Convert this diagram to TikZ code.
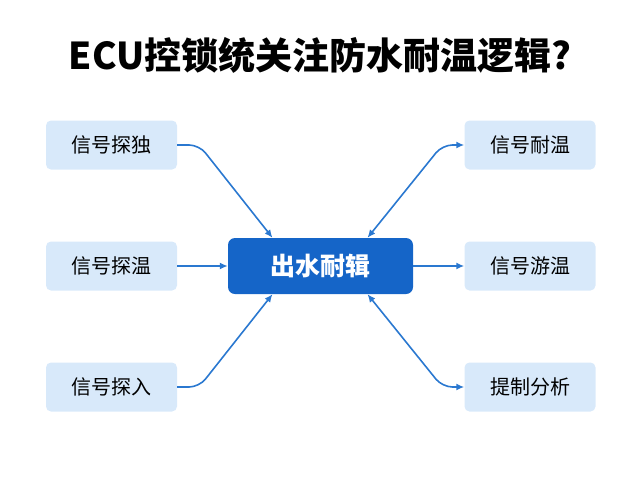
\documentclass[tikz,border=0pt]{standalone}
\usepackage{fontspec}
\setmainfont{Noto Sans CJK SC}
\usetikzlibrary{arrows.meta}
\usetikzlibrary{calc}
\usetikzlibrary{positioning}
\definecolor{boxfill}{HTML}{D8E9FA}
\definecolor{hubfill}{HTML}{1565C8}
\definecolor{linkcol}{HTML}{2A78D0}

\begin{document}
\begin{tikzpicture}[x=1pt,y=-1pt,>={Latex[length=8pt,width=7pt]}]
  \tikzstyle{side}=[fill=boxfill, rounded corners=5pt, minimum width=131pt, minimum height=49pt, font=\fontsize{20}{20}\selectfont]
  \tikzstyle{hub}=[fill=hubfill, rounded corners=7pt, minimum width=185pt, minimum height=56pt, text=white, font=\fontsize{25}{25}\selectfont\bfseries]
  \tikzstyle{link}=[draw=linkcol, line width=1.6pt, rounded corners=10pt]
  \useasboundingbox (0,0) rectangle (640,480);
  \node[font=\fontsize{37}{37}\selectfont\bfseries] (title) at (320,55) {ECU控锁统关注防水耐温逻辑?};
  \node[hub]  (C)  at (320.5,266) {出水耐辑};
  \node[side] (L1) at (111.5,145) {信号探独};
  \node[side] (L2) at (111.5,266) {信号探温};
  \node[side] (L3) at (111.5,387) {信号探入};
  \node[side] (R1) at (530,145) {信号耐温};
  \node[side] (R2) at (530,266) {信号游温};
  \node[side] (R3) at (530,387) {提制分析};
  \path[link,->] (L1.east) -- ++(22,0) -- ([xshift=-48pt]C.north);
  \path[link,->] (L2.east) -- (C.west);
  \path[link,->] (L3.east) -- ++(22,0) -- ([xshift=-48pt]C.south);
  \path[link,<->] ([xshift=47pt]C.north) -- ($(R1.west)+(-22,0)$) -- (R1.west);
  \path[link,->] (C.east) -- (R2.west);
  \path[link,<->] ([xshift=47pt]C.south) -- ($(R3.west)+(-22,0)$) -- (R3.west);
\end{tikzpicture}
\end{document}
